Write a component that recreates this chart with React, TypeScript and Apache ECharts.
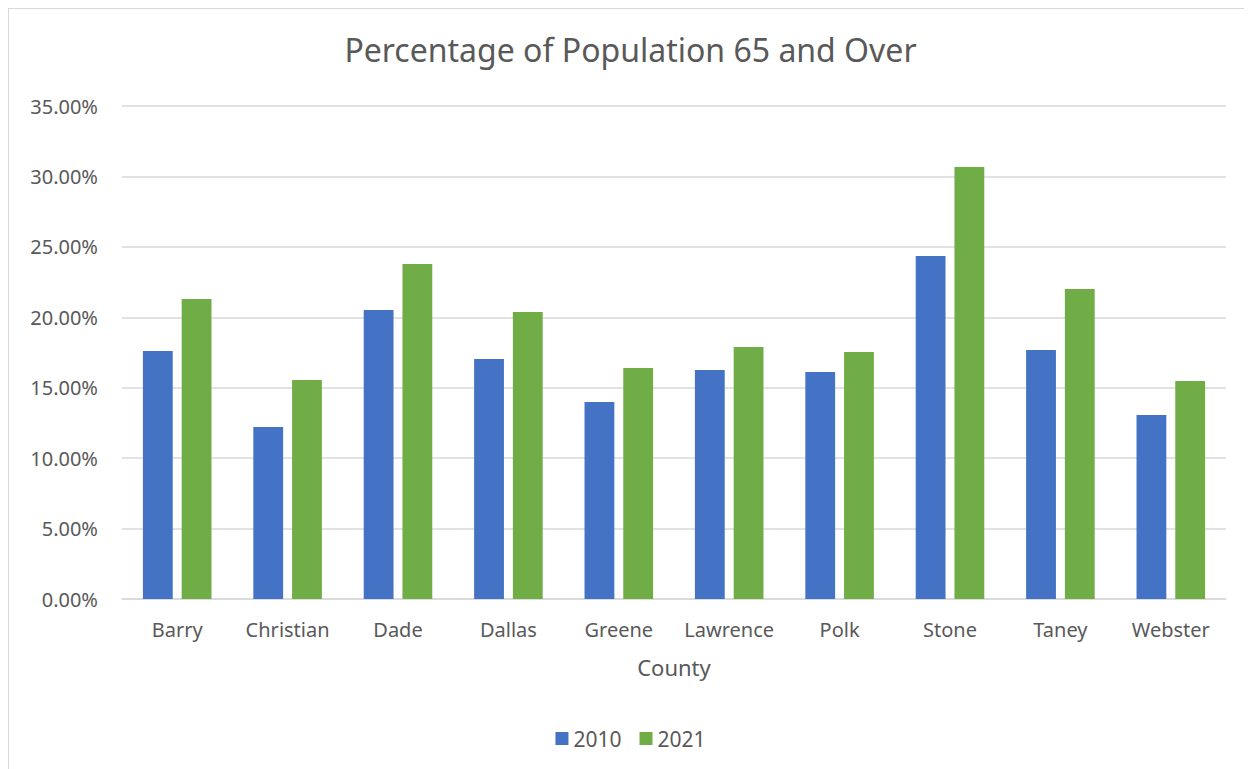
import React, { useEffect, useRef } from "react";
import * as echarts from "echarts";

const categories = ["Barry", "Christian", "Dade", "Dallas", "Greene", "Lawrence", "Polk", "Stone", "Taney", "Webster"];
const values2010 = [17.61, 12.21, 20.52, 17.04, 13.99, 16.26, 16.12, 24.35, 17.68, 13.06];
const values2021 = [21.3, 15.55, 23.78, 20.37, 16.4, 17.89, 17.54, 30.67, 22.01, 15.48];
const seriesNames = ["2010", "2021"];
const yTicks = { min: 0, max: 35, interval: 5 };

const FONT = "'Noto Sans', sans-serif";
const TXT = "#595959";

export default function App() {
  const ref = useRef<HTMLDivElement>(null);
  useEffect(() => {
    document.body.style.overflow = "hidden";
    const chart = echarts.init(ref.current!, null, { renderer: "svg" });
    chart.setOption({
      animation: false,
      backgroundColor: "#ffffff",
      title: {
        text: "Percentage of Population 65 and Over",
        left: "center",
        top: 24,
        padding: 0,
        textStyle: { fontFamily: FONT, fontSize: 32, fontWeight: "normal", color: TXT },
      },
      legend: {
        data: seriesNames,
        left: "center",
        top: 714,
        itemWidth: 13,
        itemHeight: 13,
        itemGap: 18,
        icon: "rect",
        textStyle: { fontFamily: FONT, fontSize: 21, color: TXT },
      },
      grid: { left: 113, right: 26, top: 97, bottom: 170, containLabel: false },
      xAxis: {
        type: "category",
        data: categories,
        name: "County",
        nameLocation: "middle",
        nameGap: 68,
        nameTextStyle: { fontFamily: FONT, fontSize: 22, color: TXT, verticalAlign: "middle" },
        axisLine: { show: true, lineStyle: { color: "#d9d9d9", width: 1.5 } },
        axisTick: { show: false },
        axisLabel: { fontFamily: FONT, fontSize: 20, color: TXT, margin: 20, interval: 0 },
      },
      yAxis: {
        type: "value",
        min: yTicks.min,
        max: yTicks.max,
        interval: yTicks.interval,
        axisLine: { show: false },
        axisTick: { show: false },
        splitLine: { lineStyle: { color: "#d9d9d9", width: 1.5 } },
        axisLabel: {
          fontFamily: FONT,
          fontSize: 20,
          color: TXT,
          margin: 24,
          formatter: (v: number) => v.toFixed(2) + "%",
        },
      },
      series: [
        {
          name: seriesNames[0],
          type: "bar",
          data: values2010,
          barWidth: "27%",
          barGap: "30%",
          itemStyle: { color: "#4472C4" },
        },
        {
          name: seriesNames[1],
          type: "bar",
          data: values2021,
          barWidth: "27%",
          barGap: "30%",
          itemStyle: { color: "#70AD47" },
        },
      ],
    });
    return () => chart.dispose();
  }, []);
  return (
    <div
      style={{
        width: 1244,
        height: 761,
        boxSizing: "border-box",
        borderTop: "1px solid #d9d9d9",
        borderLeft: "1px solid #d9d9d9",
        overflow: "hidden",
        background: "#fff",
      }}
    >
      <div ref={ref} style={{ width: 1243, height: 760 }} />
    </div>
  );
}
